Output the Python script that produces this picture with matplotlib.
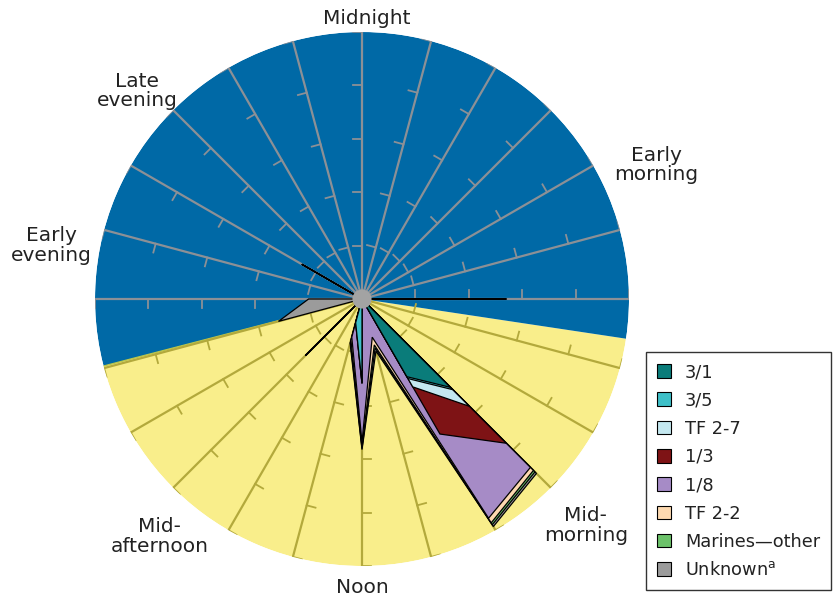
import numpy as np
import matplotlib
matplotlib.use("Agg")
import matplotlib.pyplot as plt
from matplotlib.patches import Patch

plt.rcParams['font.family'] = ['DejaVu Sans']

# hours of the day (one spoke per hour), radial axis 0..25
hours = np.arange(24)
rmax = 25
rticks = [5, 10, 15, 20, 25]

# daylight (yellow) vs night (blue), in hours
sunrise = 6.57
sunset = 17.03

# stacked series, innermost first
names = ["3/1", "3/5", "TF 2-7", "1/3", "1/8", "TF 2-2", "Marines\u2014other", "Unknown$^{\\mathrm{a}}$"]
colors = ["#0A7C7A", "#3EC0C8", "#C4E8F0", "#7E1315", "#A68BC6", "#FDD9B0", "#6CC26A", "#9B9B9B"]

v_31 = [0, 0, 0, 0, 0, 0, 0, 0, 0, 11.7, 8.4, 0, 0, 0, 0, 0, 0, 0, 0, 0, 0, 0, 0, 0]
v_35 = [0, 0, 0, 0, 0, 0, 0, 0, 0, 0.3, 0.2, 0, 7.9, 2.3, 0, 0, 0, 0, 0, 0, 0, 0, 0, 0]
v_tf27 = [0, 0, 0, 0, 0, 0, 0, 0, 0, 2.2, 0.9, 0, 0, 0, 0, 0, 0, 0, 0, 0, 0, 0, 0, 0]
v_13 = [0, 0, 0, 0, 0, 0, 13.5, 0, 0, 4.9, 5.1, 0, 0, 0, 0, 0, 0, 0, 0, 0, 0, 0, 0, 0]
v_18 = [0, 0, 0, 0, 0, 0, 0, 0, 0, 3.2, 9.1, 3.7, 5.5, 1.4, 0, 0, 0, 0, 0, 0, 0, 0, 0, 0]
v_tf22 = [0, 0, 0, 0, 0, 0, 0, 0, 0, 0.4, 0.5, 0.75, 0.4, 0.3, 0, 0, 0, 0, 0, 0, 6.5, 0, 0, 0]
v_mar = [0, 0, 0, 0, 0, 0, 0, 0, 0, 0.2, 0.2, 0.3, 0.2, 0.2, 0, 7.5, 0, 0, 0, 0, 0, 0, 0, 0]
v_unk = [0, 0, 0, 0, 0, 0, 0, 0, 0, 0.2, 0.2, 0.3, 0.1, 0.1, 0, 0, 0, 8.1, 5.0, 0, 0, 0, 0, 0]
series = [v_31, v_35, v_tf27, v_13, v_18, v_tf22, v_mar, v_unk]

# period labels: text, hour position, radius
lab_text = ["Midnight", "Early\nmorning", "Mid-\nmorning", "Noon", "Mid-\nafternoon", "Early\nevening", "Late\nevening"]
lab_hour = [0.06, 4.37, 9.02, 12, 14.7, 18.65, 20.85]
lab_r = [26.3, 30.3, 29.8, 27.0, 29.2, 29.5, 28.7]

fig = plt.figure(figsize=(8.4, 5.96), dpi=100)
ax = fig.add_axes([95 / 840, 30 / 596, 534 / 840, 534 / 596], projection="polar")
ax.set_theta_zero_location("N")
ax.set_theta_direction(-1)
ax.set_ylim(0, rmax)
ax.grid(False)
ax.set_xticks([])
ax.set_yticks([])
ax.spines["polar"].set_visible(False)
ax.patch.set_alpha(0)

to_rad = lambda h: np.asarray(h) * 2 * np.pi / 24

# day / night background
day_w = to_rad(sunset - sunrise)
ax.bar(to_rad(sunrise), rmax, width=day_w, bottom=0, align="edge",
       color="#F9EE8B", edgecolor="none", zorder=0)
ax.bar(to_rad(sunset), rmax, width=2 * np.pi - day_w, bottom=0, align="edge",
       color="#0069A6", edgecolor="none", zorder=0)
ax.plot([to_rad(sunset)] * 2, [0, rmax], color="#B9C64A", linewidth=1.0, zorder=0.2)

# spokes and tick marks
tick_len = 0.85
for h in hours:
    t = to_rad(h)
    c = "#B3A93C" if sunrise <= h <= sunset else "#8C9096"
    ax.plot([t, t], [0, rmax], color=c, linewidth=1.6, zorder=0.5, solid_capstyle="butt")
    for rt in rticks:
        ax.plot([t, t - np.arctan(tick_len / rt)], [rt, np.hypot(rt, tick_len)],
                color=c, linewidth=1.3, zorder=0.5)

# stacked filled radar, outermost drawn first
theta = to_rad(np.append(hours, 0))
cum = np.cumsum(np.array(series), axis=0)
for i in range(len(series) - 1, -1, -1):
    r = np.append(cum[i], cum[i][0])
    ax.fill(theta, r, facecolor=colors[i], edgecolor="black", linewidth=0.9, zorder=1 + (8 - i) * 0.01)

ax.scatter([0], [0], s=190, color="#A3A3A3", edgecolors="none", zorder=4)

for txt, h, r in zip(lab_text, lab_hour, lab_r):
    ax.text(to_rad(h), r, txt, ha="center", va="center", fontsize=14.5,
            color="#222222", linespacing=1.05, clip_on=False)

handles = [Patch(facecolor=c, edgecolor="black", linewidth=0.8) for c in colors]
leg = fig.legend(handles, names, loc="upper left", bbox_to_anchor=(646 / 840, 1 - 352 / 596),
                 fontsize=12.8, frameon=True, fancybox=False, edgecolor="black",
                 handlelength=0.79, handleheight=0.79, handletextpad=0.79,
                 labelspacing=0.58, borderpad=0.62, borderaxespad=0)
leg.get_frame().set_linewidth(1.0)
for txt in leg.get_texts():
    txt.set_color("#222222")

fig.savefig("out.png", dpi=100)
